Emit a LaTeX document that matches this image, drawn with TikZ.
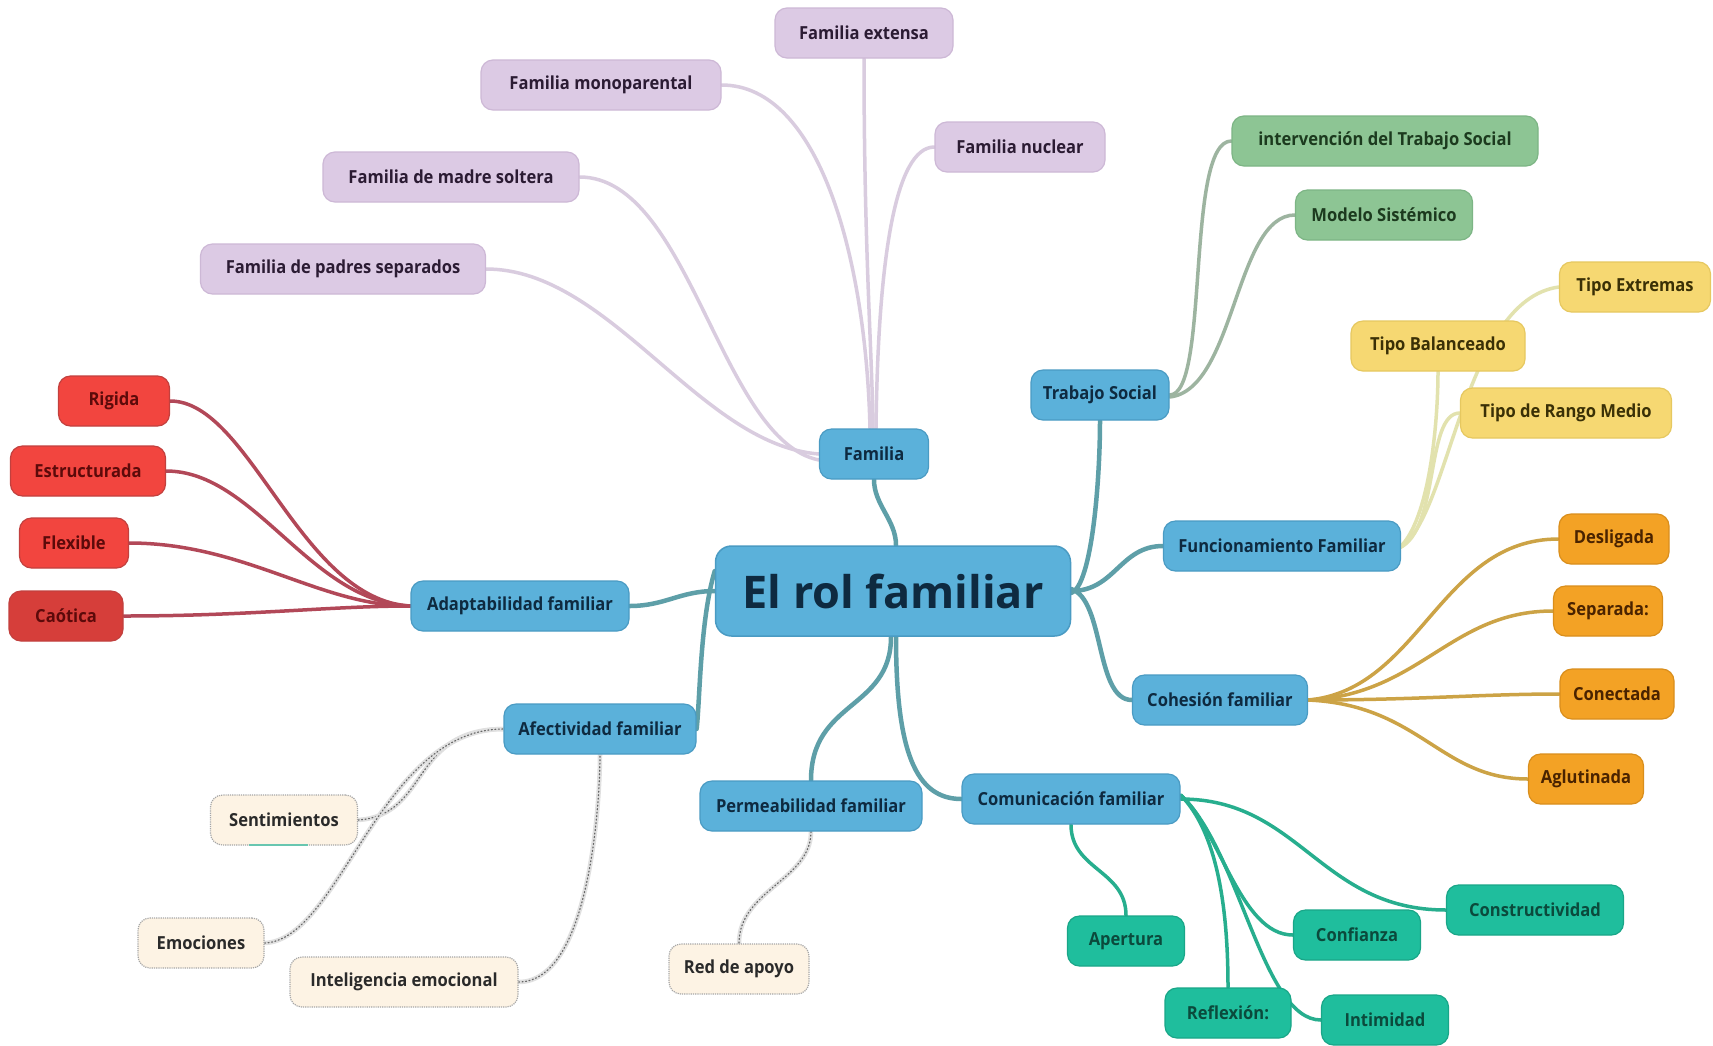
\documentclass[tikz,border=0pt]{standalone}
\usepackage{fontspec}
\setmainfont{Open Sans}
\newfontfamily\semib{Open Sans}[FakeStretch=0.92]
\definecolor{cblue}{HTML}{5BB1DA}
\definecolor{cblueD}{HTML}{4A9BC3}
\definecolor{tblue}{HTML}{0E2A40}
\definecolor{lroot}{HTML}{5E9FA8}
\definecolor{cpur}{HTML}{DCCAE4}
\definecolor{cpurD}{HTML}{CDB8D6}
\definecolor{tpur}{HTML}{2B1B33}
\definecolor{lpur}{HTML}{D9CCDF}
\definecolor{cred}{HTML}{F2453F}
\definecolor{cred2}{HTML}{D63E3A}
\definecolor{credD}{HTML}{C2403E}
\definecolor{tred}{HTML}{5C0A0A}
\definecolor{lred}{HTML}{B24858}
\definecolor{cgrn}{HTML}{8DC594}
\definecolor{cgrnD}{HTML}{7DB585}
\definecolor{tgrn}{HTML}{1C3A1E}
\definecolor{lgrn}{HTML}{9DB4A0}
\definecolor{cyel}{HTML}{F6D872}
\definecolor{cyelD}{HTML}{E6C860}
\definecolor{tyel}{HTML}{3A3006}
\definecolor{lyel}{HTML}{E2E2AE}
\definecolor{cora}{HTML}{F3A225}
\definecolor{coraD}{HTML}{D98E1C}
\definecolor{tora}{HTML}{4A2300}
\definecolor{lora}{HTML}{CCA346}
\definecolor{ctea}{HTML}{1FBE9D}
\definecolor{cteaD}{HTML}{19A688}
\definecolor{ttea}{HTML}{0B4A3C}
\definecolor{ltea}{HTML}{27AE8E}
\definecolor{ccre}{HTML}{FDF3E4}
\definecolor{tcre}{HTML}{2A2A2A}
\pgfdeclarelayer{bg}
\pgfsetlayers{bg,main}
\begin{document}
\begin{tikzpicture}[x=1pt,y=-1pt,
  box/.style={rounded corners=12pt, minimum height=50pt, inner sep=0pt, line width=1.2pt,
    font=\semib\bfseries\fontsize{18}{21}\selectfont},
  bluebox/.style={box, fill=cblue, draw=cblueD, text=tblue},
  purbox/.style={box, fill=cpur, draw=cpurD, text=tpur},
  redbox/.style={box, fill=cred, draw=credD, text=tred},
  grnbox/.style={box, fill=cgrn, draw=cgrnD, text=tgrn},
  yelbox/.style={box, fill=cyel, draw=cyelD, text=tyel},
  orabox/.style={box, fill=cora, draw=coraD, text=tora},
  teabox/.style={box, fill=ctea, draw=cteaD, text=ttea},
  crebox/.style={box, fill=ccre, draw=black!35, densely dotted, text=tcre},
  rootbox/.style={rounded corners=16pt, minimum width=355pt, minimum height=90pt, inner sep=0pt,
    fill=cblue, draw=cblueD, line width=1.5pt, text=tblue, font=\bfseries\fontsize{45}{50}\selectfont},
  lr/.style={draw=lroot, line width=4.5pt, line cap=round},
  lp/.style={draw=lpur, line width=3.5pt, line cap=round},
  lrd/.style={draw=lred, line width=3.5pt, line cap=round},
  lg/.style={draw=lgrn, line width=3.5pt, line cap=round},
  ly/.style={draw=lyel, line width=3.5pt, line cap=round},
  lo/.style={draw=lora, line width=3.5pt, line cap=round},
  lt/.style={draw=ltea, line width=3.5pt, line cap=round},
  ld/.style={draw=black!12, line width=4.5pt, line cap=round,
    postaction={draw=black!60, line width=1.2pt, dash pattern=on 1pt off 2.5pt}}
]
\useasboundingbox (0,0) rectangle (1713,1045);

% root and first level
\node[rootbox] (root) at (893,591) {El rol familiar};
\node[bluebox, minimum width=109pt] (fam) at (874,454) {Familia};
\node[bluebox, minimum width=138pt] (ts) at (1100,395) {Trabajo Social};
\node[bluebox, minimum width=237pt] (fun) at (1282,546) {Funcionamiento Familiar};
\node[bluebox, minimum width=175pt] (coh) at (1220,700) {Cohesión familiar};
\node[bluebox, minimum width=218pt] (com) at (1071,799) {Comunicación familiar};
\node[bluebox, minimum width=222pt] (per) at (811,806) {Permeabilidad familiar};
\node[bluebox, minimum width=192pt] (afe) at (600,729) {Afectividad familiar};
\node[bluebox, minimum width=218pt] (ada) at (520,606) {Adaptabilidad familiar};

% purple
\node[purbox, minimum width=178pt] (ext) at (864,33) {Familia extensa};
\node[purbox, minimum width=240pt] (mono) at (601,85) {Familia monoparental};
\node[purbox, minimum width=170pt] (nuc) at (1020,147) {Familia nuclear};
\node[purbox, minimum width=256pt] (mad) at (451,177) {Familia de madre soltera};
\node[purbox, minimum width=285pt] (pad) at (343,269) {Familia de padres separados};

% red
\node[redbox, minimum width=111pt] (rig) at (114,401) {Rigida};
\node[redbox, minimum width=155pt] (est) at (88,471) {Estructurada};
\node[redbox, minimum width=109pt] (fle) at (74,543) {Flexible};
\node[redbox, fill=cred2, minimum width=114pt] (cao) at (66,616) {Caótica};

% green
\node[grnbox, minimum width=306pt] (int) at (1385,141) {intervención del Trabajo Social};
\node[grnbox, minimum width=177pt] (mod) at (1384,215) {Modelo Sistémico};

% yellow
\node[yelbox, minimum width=151pt] (tex) at (1635,287) {Tipo Extremas};
\node[yelbox, minimum width=174pt] (tba) at (1438,346) {Tipo Balanceado};
\node[yelbox, minimum width=211pt] (trm) at (1566,413) {Tipo de Rango Medio};

% orange
\node[orabox, minimum width=110pt] (des) at (1614,539) {Desligada};
\node[orabox, minimum width=109pt] (sep) at (1608,611) {Separada:};
\node[orabox, minimum width=114pt] (con) at (1617,694) {Conectada};
\node[orabox, minimum width=115pt] (agl) at (1586,779) {Aglutinada};

% teal
\node[teabox, minimum width=117pt] (ape) at (1126,941) {Apertura};
\node[teabox, minimum width=127pt] (cnf) at (1357,935) {Confianza};
\node[teabox, minimum width=177pt] (cst) at (1535,910) {Constructividad};
\node[teabox, minimum width=126pt] (ref) at (1228,1013) {Reflexión:};
\node[teabox, minimum width=127pt] (inti) at (1385,1020) {Intimidad};

% cream
\node[crebox, minimum width=147pt] (sen) at (284,820) {Sentimientos};
\node[crebox, minimum width=126pt] (emo) at (201,943) {Emociones};
\node[crebox, minimum width=228pt] (ine) at (404,982) {Inteligencia emocional};
\node[crebox, minimum width=140pt] (red) at (739,969) {Red de apoyo};
\draw[draw=ltea!70, line width=2pt] ([xshift=-35pt,yshift=1pt]sen.south) -- ([xshift=24pt,yshift=1pt]sen.south);

\begin{pgfonlayer}{bg}
\fill[white] (0,0) rectangle (1713,1045);
% root connectors
\draw[lr] ([xshift=3pt]root.north) .. controls (896,520) and (874,505) .. (fam.south);
\draw[lr] ([yshift=-2pt]root.east) .. controls (1092,585) and (1100,480) .. (ts.south);
\draw[lr] (root.east) .. controls (1115,591) and (1120,546) .. (fun.west);
\draw[lr] ([yshift=2pt]root.east) .. controls (1105,600) and (1095,700) .. (coh.west);
\draw[lr] ([xshift=3pt]root.south) .. controls (896,750) and (915,799) .. (com.west);
\draw[lr] ([xshift=-2pt]root.south) .. controls (891,710) and (811,700) .. (per.north);
\draw[lr] ([yshift=20pt]root.west) .. controls (700,620) and (700,700) .. (afe.east);
\draw[lr] (root.west) .. controls (680,591) and (665,606) .. (ada.east);
% purple
\draw[lp] (ext.south) .. controls (864,250) and (872,350) .. ([xshift=-1pt]fam.north);
\draw[lp] (nuc.west) .. controls (895,147) and (878,260) .. ([xshift=2pt]fam.north);
\draw[lp] (mono.east) .. controls (820,85) and (866,260) .. ([xshift=-4pt]fam.north);
\draw[lp] (mad.east) .. controls (690,177) and (720,440) .. ([yshift=-6pt]fam.west);
\draw[lp] (pad.east) .. controls (610,269) and (700,445) .. (fam.west);
% red
\draw[lrd] (rig.east) .. controls (250,401) and (300,600) .. (ada.west);
\draw[lrd] (est.east) .. controls (255,471) and (310,602) .. (ada.west);
\draw[lrd] (fle.east) .. controls (245,543) and (320,606) .. (ada.west);
\draw[lrd] (cao.east) .. controls (250,616) and (330,606) .. (ada.west);
% green
\draw[lg] (ts.east) .. controls (1210,395) and (1185,141) .. (int.west);
\draw[lg] ([yshift=-2pt]ts.east) .. controls (1235,390) and (1235,215) .. (mod.west);
% yellow
\draw[ly] ([xshift=-2pt,yshift=-2pt]fun.east) .. controls (1450,520) and (1462,300) .. (tex.west);
\draw[ly] ([xshift=-2pt,yshift=-2pt]fun.east) .. controls (1430,520) and (1438,420) .. (tba.south);
\draw[ly] ([xshift=-2pt,yshift=-2pt]fun.east) .. controls (1440,530) and (1425,413) .. (trm.west);
% orange
\draw[lo] (coh.east) .. controls (1420,690) and (1440,539) .. (des.west);
\draw[lo] (coh.east) .. controls (1420,695) and (1450,611) .. (sep.west);
\draw[lo] (coh.east) .. controls (1420,700) and (1480,694) .. (con.west);
\draw[lo] (coh.east) .. controls (1420,705) and (1440,779) .. (agl.west);
% teal
\draw[lt] (com.south) .. controls (1071,870) and (1126,870) .. (ape.north);
\draw[lt] (com.east) .. controls (1300,799) and (1320,910) .. (cst.west);
\draw[lt] ([yshift=4pt]com.east) .. controls (1220,830) and (1240,935) .. (cnf.west);
\draw[lt] ([yshift=4pt]com.east) .. controls (1215,830) and (1228,900) .. (ref.north);
\draw[lt] ([yshift=4pt]com.east) .. controls (1240,850) and (1262,1020) .. (inti.west);
% dotted
\draw[ld] (sen.east) .. controls (430,815) and (410,729) .. (afe.west);
\draw[ld] (emo.east) .. controls (340,940) and (380,729) .. (afe.west);
\draw[ld] (ine.east) .. controls (590,982) and (600,800) .. (afe.south);
\draw[ld] (per.south) .. controls (811,880) and (739,890) .. (red.north);
\end{pgfonlayer}
\end{tikzpicture}
\end{document}
